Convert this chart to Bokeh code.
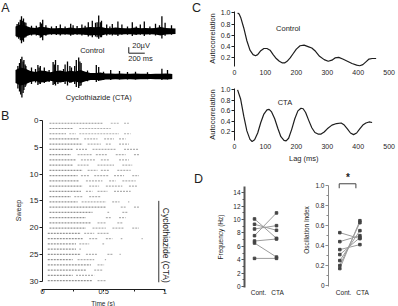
import numpy as np
from bokeh.plotting import figure
from bokeh.layouts import row, column
from bokeh.models import Range1d, Label, FixedTicker
from bokeh.embed import file_html
from bokeh.resources import INLINE

FONT = "Liberation Sans"
INK = "#1e1e1e"

# ------------------------------------------------------------------ DATA
# Panel A: field-potential traces, half-width of the noise band (ms, µV)
ctrl_band_t_ms = [0, 62.5, 125, 187.5, 250, 312.5, 375, 437.5, 500, 562.5, 625, 687.5, 750, 812.5, 875,
                  937.5, 1000, 1062.5, 1125, 1187.5, 1250, 1312.5, 1375, 1437.5, 1500, 1562.5, 1625,
                  1687.5, 1750, 1812.5, 1875, 1937.5, 2000]
ctrl_band_uv = [16, 22, 18, 12, 11, 15, 13, 10, 10, 11, 10, 12, 10, 11, 12, 14, 13, 15, 11, 10, 12, 11, 10,
                10, 12, 10, 11, 10, 11, 14, 11, 10, 9]
cta_band_t_ms = [0, 62.5, 125, 187.5, 250, 312.5, 375, 437.5, 500, 562.5, 625, 687.5, 750, 812.5, 875,
                 937.5, 1000, 1062.5, 1125, 1187.5, 1250, 1312.5, 1375, 1437.5, 1500, 1562.5, 1625,
                 1687.5, 1750, 1812.5, 1875, 1937.5, 1960]
cta_band_uv = [22, 30, 26, 18, 15, 20, 18, 14, 18, 20, 16, 19, 17, 22, 16, 12, 12, 13, 10, 10, 9, 10, 9, 9,
               10, 9, 9, 8, 9, 9, 10, 9, 8]
# large deflections (time ms, up µV, down µV)
ctrl_spike_t = [20, 40, 60, 75, 90, 100, 115, 130, 200, 260, 310, 325, 340, 380, 450, 510, 560, 620, 690,
                720, 770, 830, 870, 910, 960, 1000, 1020, 1040, 1060, 1075, 1140, 1180, 1210, 1280, 1330,
                1400, 1460, 1510, 1560, 1610, 1680, 1750, 1800, 1830, 1870, 1950]
ctrl_spike_up = [24, 30, 38, 50, 35, 42, 30, 28, 18, 18, 30, 26, 38, 20, 16, 17, 22, 16, 25, 20, 17, 22, 18,
                 30, 35, 28, 30, 52, 30, 35, 22, 16, 24, 32, 22, 16, 30, 16, 22, 32, 16, 25, 20, 50, 28, 20]
ctrl_spike_dn = [20, 25, 30, 40, 30, 35, 22, 20, 14, 14, 22, 20, 30, 15, 12, 13, 14, 12, 15, 12, 12, 14, 12,
                 18, 20, 18, 20, 25, 20, 20, 14, 12, 14, 16, 12, 12, 16, 12, 12, 16, 12, 14, 12, 24, 15, 12]
cta_spike_t = [30, 50, 65, 80, 95, 105, 120, 130, 200, 250, 280, 295, 310, 360, 420, 470, 485, 500, 530,
               600, 620, 650, 680, 700, 740, 760, 790, 805, 820, 900, 1010, 1040, 1100, 1190, 1300, 1400,
               1500, 1650, 1830, 1900]
cta_spike_up = [35, 45, 58, 66, 50, 55, 40, 35, 30, 25, 38, 30, 35, 30, 22, 48, 40, 55, 38, 25, 40, 50, 35,
                30, 35, 55, 63, 50, 45, 20, 38, 32, 16, 22, 18, 15, 16, 14, 26, 22]
cta_spike_dn = [40, 50, 60, 70, 55, 45, 35, 30, 25, 20, 28, 24, 25, 22, 18, 28, 25, 30, 25, 18, 25, 30, 22,
                20, 25, 35, 38, 32, 30, 16, 18, 15, 12, 12, 10, 10, 10, 9, 12, 10]
scale_ms = 200
scale_uv = 20

# Panel B: raster, bursts of spikes per sweep (start s, end s)
raster_bursts = [
    [(0.057, 0.49), (0.558, 0.626), (0.667, 0.707)],
    [(0.057, 0.247), (0.301, 0.558)],
    [(0.057, 0.192), (0.219, 0.274), (0.301, 0.626), (0.667, 0.721)],
    [(0.057, 0.301), (0.341, 0.45), (0.504, 0.585), (0.626, 0.68)],
    [(0.057, 0.328), (0.369, 0.477), (0.518, 0.558), (0.626, 0.707)],
    [(0.057, 0.247), (0.274, 0.369), (0.409, 0.599), (0.667, 0.789)],
    [(0.057, 0.233), (0.287, 0.409), (0.436, 0.531), (0.599, 0.68), (0.748, 0.789)],
    [(0.057, 0.274), (0.314, 0.436), (0.477, 0.545), (0.626, 0.707)],
    [(0.057, 0.247), (0.287, 0.382), (0.45, 0.585), (0.653, 0.734)],
    [(0.057, 0.328), (0.369, 0.45), (0.477, 0.545), (0.612, 0.721)],
    [(0.057, 0.287), (0.314, 0.382), (0.423, 0.545), (0.585, 0.667), (0.734, 0.789)],
    [(0.057, 0.301), (0.355, 0.49), (0.545, 0.599), (0.653, 0.762)],
    [(0.057, 0.328), (0.382, 0.463), (0.518, 0.653), (0.707, 0.775)],
    [(0.057, 0.314), (0.355, 0.409), (0.45, 0.531), (0.585, 0.721)],
    [(0.057, 0.233), (0.26, 0.328), (0.382, 0.477)],
    [(0.057, 0.287), (0.32, 0.52), (0.57, 0.63), (0.7, 0.71)],
    [(0.057, 0.518), (0.64, 0.68), (0.748, 0.789)],
    [(0.057, 0.409), (0.531, 0.545), (0.653, 0.694)],
    [(0.057, 0.355), (0.518, 0.558), (0.626, 0.68)],
    [(0.057, 0.396), (0.45, 0.518), (0.612, 0.653)],
    [(0.057, 0.355), (0.409, 0.518), (0.572, 0.667), (0.734, 0.789)],
    [(0.043, 0.314), (0.341, 0.423), (0.45, 0.545)],
    [(0.043, 0.328), (0.382, 0.45), (0.518, 0.572), (0.64, 0.653), (0.81, 0.82)],
    [(0.043, 0.274), (0.301, 0.382), (0.49, 0.504)],
    [(0.043, 0.274), (0.301, 0.314)],
    [(0.043, 0.314), (0.355, 0.45), (0.531, 0.572), (0.63, 0.64)],
    [(0.043, 0.247), (0.287, 0.423), (0.51, 0.52)],
    [(0.043, 0.396), (0.45, 0.504)],
    [(0.043, 0.355), (0.423, 0.49)],
    [(0.043, 0.247), (0.274, 0.423)],
    [(0.043, 0.409), (0.45, 0.518)],
]
cta_sweeps = (15, 30.2)
sweep_ticks = [0, 5, 10, 15, 20, 25, 30]

# Panel C: autocorrelation (lag ms, value)
ctrl_lag = [10, 15, 20, 30, 40, 50, 60, 68, 75, 85, 95, 105, 115, 125, 135, 145, 155, 162, 170, 180, 190,
            200, 212, 225, 240, 250, 262, 275, 290, 303, 315, 325, 337, 350, 365, 380, 395, 405, 415, 425,
            435, 445, 458]
ctrl_ac = [1.0, 0.98, 0.92, 0.73, 0.5, 0.33, 0.25, 0.23, 0.25, 0.32, 0.36, 0.36, 0.33, 0.25, 0.18, 0.13,
           0.1, 0.1, 0.13, 0.19, 0.27, 0.35, 0.41, 0.42, 0.39, 0.37, 0.31, 0.22, 0.16, 0.13, 0.15, 0.19, 0.2,
           0.17, 0.13, 0.09, 0.06, 0.05, 0.07, 0.12, 0.17, 0.18, 0.18]
cta_lag = [10, 20, 30, 40, 50, 57, 65, 75, 85, 95, 105, 112, 120, 130, 140, 150, 160, 167, 175, 185, 195,
           205, 215, 222, 230, 240, 250, 260, 270, 280, 290, 300, 315, 330, 345, 355, 365, 375, 385, 395,
           405, 415, 425, 435, 445]
cta_ac = [1.0, 0.82, 0.5, 0.22, 0.06, 0.02, 0.05, 0.18, 0.38, 0.54, 0.62, 0.63, 0.58, 0.45, 0.27, 0.11,
          0.04, 0.03, 0.08, 0.25, 0.45, 0.6, 0.65, 0.64, 0.57, 0.42, 0.28, 0.19, 0.16, 0.16, 0.2, 0.26, 0.33,
          0.36, 0.37, 0.33, 0.26, 0.18, 0.15, 0.18, 0.26, 0.33, 0.37, 0.39, 0.38]
lag_ticks = [0, 100, 200, 300, 400, 500]
ac_ticks = [0.2, 0.4, 0.6, 0.8, 1.0]

# Panel D: paired values per slice
freq_cont = [10.1, 9.3, 8.6, 7.6, 6.8, 6.5, 4.2]
freq_cta = [7.2, 8.4, 9.1, 11.0, 7.1, 4.4, 4.2]
osc_cont = [0.53, 0.44, 0.36, 0.31, 0.25, 0.20, 0.17]
osc_cta = [0.47, 0.50, 0.41, 0.48, 0.55, 0.63, 0.65]
conditions = ["Cont.", "CTA"]
freq_ticks = [0, 2, 4, 6, 8, 10, 12, 14]
osc_ticks = [0, 0.2, 0.4, 0.6, 0.8, 1.0]


# ------------------------------------------------------------------ helpers
def mkfig(w, h, xr, yr, l, r, t, b, axes=True):
    kw = {} if axes else dict(x_axis_type=None, y_axis_type=None)
    p = figure(width=w, height=h, x_range=xr, y_range=yr, output_backend="svg",
               toolbar_location=None, min_border_left=l, min_border_right=r,
               min_border_top=t, min_border_bottom=b, **kw)
    p.frame_align = False
    p.outline_line_color = None
    if axes:
        p.xgrid.visible = False
        p.ygrid.visible = False
    p.background_fill_color = "white"
    p.border_fill_color = "white"
    return p


def strip(w, h):
    return mkfig(w, h, Range1d(0, w), Range1d(0, h), 0, 0, 0, 0, axes=False)


def style_axis(ax, size, color=INK, width=1, tick_out=3):
    ax.axis_line_color = color
    ax.axis_line_width = width
    ax.major_tick_line_color = color
    ax.major_tick_line_width = 1
    ax.major_tick_out = tick_out
    ax.major_tick_in = 0
    ax.minor_tick_line_color = None
    ax.major_label_text_font = FONT
    ax.major_label_text_font_size = f"{size}px"
    ax.major_label_text_color = INK
    ax.major_label_standoff = 1
    ax.axis_label_text_font = FONT
    ax.axis_label_text_font_style = "normal"
    ax.axis_label_text_color = INK


def txt(p, x, y, s, size, angle=0.0, align="center", baseline="middle", style="normal"):
    p.add_layout(Label(x=x, y=y, text=s, text_font=FONT, text_font_size=f"{size}px",
                       text_align=align, text_baseline=baseline, angle=angle,
                       text_color=INK, text_font_style=style))


def fmt(v):
    return ("%g" % v) if v != 1.0 else "1.0"


# ------------------------------------------------------------------ Panel A (0..204 x 0..110)
pa = mkfig(204, 110, Range1d(-187.5, 2362.5), Range1d(-264.3, 102.3), 0, 0, 0, 0, axes=False)
traces = [
    (0.0, ctrl_band_t_ms, ctrl_band_uv, ctrl_spike_t, ctrl_spike_up, ctrl_spike_dn),
    (-151.0, cta_band_t_ms, cta_band_uv, cta_spike_t, cta_spike_up, cta_spike_dn),
]
for off, bt, bw, st, su, sd in traces:
    bt = np.array(bt, float)
    bw = np.array(bw, float)
    pa.varea(x=bt, y1=off - bw, y2=off + bw, fill_color="black")
    st = np.array(st, float)
    pa.segment(x0=st, y0=off - np.array(sd, float), x1=st, y1=off + np.array(su, float),
               line_color="black", line_width=1.3)
sb_x, sb_y = 1416, -73.3
pa.line(x=[sb_x, sb_x, sb_x + scale_ms], y=[sb_y + scale_uv, sb_y, sb_y], line_color=INK, line_width=1)
txt(pa, 1459, -47.7, f"{scale_uv}\u00b5V", 7.5, align="left")
txt(pa, 1409, -92, f"{scale_ms} ms", 7.5, align="left")
txt(pa, 959, -65.3, "Control", 7.5)
txt(pa, 1041, -222.6, "Cyclothiazide (CTA)", 7.5)
txt(pa, -179, 78, "A", 12.5, align="left")
txt(pa, 2262.5, 78, "C", 12.5)

# ------------------------------------------------------------------ Panel B (raster)
sb_strip = strip(26, 186)
txt(sb_strip, 0.5, 180.5, "B", 12.5, align="left")
txt(sb_strip, 18, 86, "Sweep", 7, angle=np.pi / 2)

pb = mkfig(178, 186, Range1d(0, 1.325), Range1d(31.55, -0.933), 15, 0, 5, 7)
x0a, x1a, ya, x0b, x1b, yb = [], [], [], [], [], []
for k, bursts in enumerate(raster_bursts):
    yk = 0.5 + k * 0.98
    for j, (s0, s1) in enumerate(bursts):
        if j == 0:
            x0a.append(s0); x1a.append(s1); ya.append(yk)
        else:
            x0b.append(s0); x1b.append(s1); yb.append(yk)
pb.segment(x0=x0a, y0=ya, x1=x1a, y1=ya, line_color="#959595", line_width=1.1, line_dash="2 1")
pb.segment(x0=x0b, y0=yb, x1=x1b, y1=yb, line_color="#b0b0b0", line_width=1.1, line_dash="2 1")
pb.line(x=[0.951, 0.951], y=list(cta_sweeps), line_color="#333333", line_width=1)
for ax in pb.xaxis:
    style_axis(ax, 7.5, tick_out=2)
    ax.ticker = FixedTicker(ticks=[0, 0.5, 1], minor_ticks=[0.25, 0.75])
    ax.major_label_overrides = {0: "0", 0.5: "0.5", 1: "1"}
    ax.minor_tick_line_color = INK
    ax.minor_tick_out = 2
    ax.minor_tick_in = 0
    ax.bounds = (0, 1)
    ax.major_label_standoff = -3
for ax in pb.yaxis:
    style_axis(ax, 8)
    ax.ticker = FixedTicker(ticks=sweep_ticks)
    ax.bounds = (0, 30)
txt(pb, 1.008, 23.3, "Cyclothiazide (CTA)", 8.5, angle=-np.pi / 2)
txt(pb, 1.276, 10.92, "D", 12.5)

st_time = strip(204, 10)
txt(st_time, 102.5, 5, "Time (s)", 6.5)


# ------------------------------------------------------------------ Panel C
def style_c(p):
    for ax in p.xaxis:
        style_axis(ax, 7)
        ax.axis_line_color = None
        ax.major_tick_line_color = None
        ax.major_tick_out = 0
        ax.major_label_standoff = 1
        ax.ticker = FixedTicker(ticks=lag_ticks)
    for ax in p.yaxis:
        style_axis(ax, 7)
        ax.ticker = FixedTicker(ticks=ac_ticks)
        ax.major_label_overrides = {v: fmt(v) for v in ac_ticks}
        ax.bounds = (0.04, 1.02)
        ax.axis_label = "Autocorrelation"
        ax.axis_label_text_font_size = "7.5px"
        ax.axis_label_standoff = 1


pc1 = mkfig(194, 80, Range1d(0, 517.4), Range1d(0, 1.081), 26, 4, 8, 12)
pc1.line(x=ctrl_lag, y=ctrl_ac, line_color=INK, line_width=1.2)
style_c(pc1)
txt(pc1, 173.5, 0.715, "Control", 7.5)

pc2 = mkfig(194, 72, Range1d(0, 517.4), Range1d(0, 1.063), 26, 4, 6, 10)
pc2.line(x=cta_lag, y=cta_ac, line_color=INK, line_width=1.2)
style_c(pc2)
txt(pc2, 163, 0.765, "CTA", 7.5)

st_lag = strip(194, 12)
txt(st_lag, 99.3, 6, "Lag (ms)", 7.5)


# ------------------------------------------------------------------ Panel D
def paired(p, a, b):
    xs = [[1, 2] for _ in a]
    ys = [[u, v] for u, v in zip(a, b)]
    p.multi_line(xs=xs, ys=ys, line_color="#9c9c9c", line_width=1)
    p.scatter(x=[1] * len(a), y=a, marker="square", size=2.5, color="#444444")
    p.scatter(x=[2] * len(b), y=b, marker="square", size=2.5, color="#444444")


pd1 = mkfig(96, 142, Range1d(0.545, 3.0), Range1d(-0.15, 14.95), 40, 2, 22, 19)
paired(pd1, freq_cont, freq_cta)
for ax in pd1.xaxis:
    style_axis(ax, 6.5)
    ax.axis_line_color = None
    ax.major_tick_line_color = None
    ax.major_tick_out = 0
    ax.ticker = FixedTicker(ticks=[1.18, 2.05])
    ax.major_label_overrides = {1.18: conditions[0], 2.05: conditions[1]}
for ax in pd1.yaxis:
    style_axis(ax, 6.5, color="#555555", width=2)
    ax.ticker = FixedTicker(ticks=freq_ticks, minor_ticks=[1, 3, 5, 7, 9, 11, 13])
    ax.minor_tick_line_color = "#555555"
    ax.minor_tick_out = 2
    ax.minor_tick_in = 0
    ax.axis_label = "Frequency (Hz)"
    ax.axis_label_text_font_size = "6.5px"
    ax.axis_label_standoff = 6

pd2 = mkfig(98, 142, Range1d(0.437, 3.82), Range1d(-0.02, 1.133), 24, 2, 8, 19)
paired(pd2, osc_cont, osc_cta)
for ax in pd2.xaxis:
    style_axis(ax, 6.5)
    ax.axis_line_color = None
    ax.major_tick_line_color = None
    ax.major_tick_out = 0
    ax.ticker = FixedTicker(ticks=[1.19, 2.13])
    ax.major_label_overrides = {1.19: conditions[0], 2.13: conditions[1]}
for ax in pd2.yaxis:
    style_axis(ax, 6.5, color="#8a8a8a", width=1)
    ax.ticker = FixedTicker(ticks=osc_ticks, minor_ticks=[0.1, 0.3, 0.5, 0.7, 0.9])
    ax.major_label_overrides = {v: ("0" if v == 0 else fmt(v)) for v in osc_ticks}
    ax.minor_tick_line_color = "#8a8a8a"
    ax.minor_tick_out = 2
    ax.minor_tick_in = 0
    ax.bounds = (-0.01, 1.0)
    ax.axis_label = "Oscillation Index"
    ax.axis_label_text_font_size = "6.5px"
    ax.axis_label_standoff = 2
pd2.line(x=[0.97, 0.97, 1.80, 1.80], y=[0.975, 1.02, 1.02, 0.975], line_color="#444444", line_width=1)
txt(pd2, 1.41, 1.083, "*", 10, style="bold")

left = column(pa, row(sb_strip, pb), st_time)
right = column(pc1, pc2, st_lag, row(pd1, pd2))
layout = row(left, right)
open("out.html", "w").write(file_html(layout, INLINE, title="Figure"))
